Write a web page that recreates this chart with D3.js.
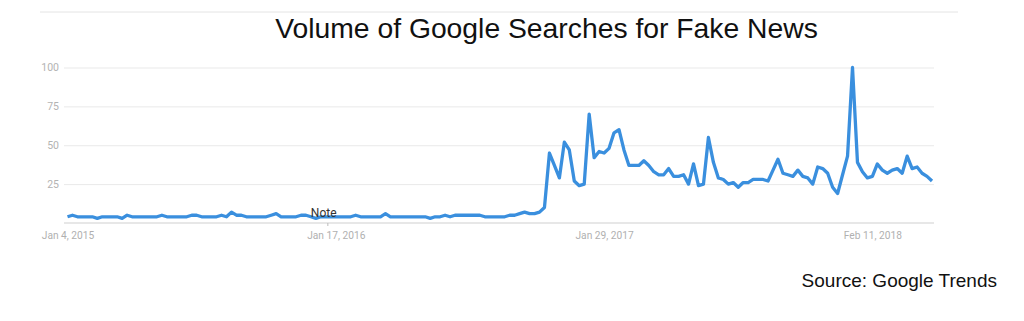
<!DOCTYPE html>
<html>
<head>
<meta charset="utf-8">
<script src="https://cdn.jsdelivr.net/npm/d3@7"></script>
<style>
html,body{margin:0;padding:0;background:#fff;}
svg{display:block;}
</style>
</head>
<body>
<svg id="chart" width="1024" height="321"></svg>
<script>
// ---- data ----
const startWeek = "2015-01-04";
const values = [
  4,5,4,4,4,4,3,4,4,4, 4,3,5,4,4,4,4,4,4,5,
  4,4,4,4,4,5,5,4,4,4, 4,5,4,7,5,5,4,4,4,4,
  4,5,6,4,4,4,4,5,5,4, 3,4,4,4,4,4,4,4,5,4,
  4,4,4,4,6,4,4,4,4,4, 4,4,4,3,4,4,5,4,5,5,
  5,5,5,5,4,4,4,4,4,5, 5,6,7,6,6,7,10,45,37,29,
  52,47,27,24,25,70,42,46,45,48, 58,60,47,37,37,37,40,37,33,31,
  31,35,30,30,31,25,38,24,25,55, 39,29,28,25,26,23,26,26,28,28,
  28,27,34,41,32,31,30,34,30,29, 25,36,35,32,23,19,31,43,100,39,
  33,29,30,38,34,32,34,35,32,43, 35,36,32,30,27
];
const yTicks = [25, 50, 75, 100];
const xTickDates = ["2015-01-04", "2016-01-17", "2017-01-29", "2018-02-11"];
const xTickLabels = ["Jan 4, 2015", "Jan 17, 2016", "Jan 29, 2017", "Feb 11, 2018"];
const noteDate = "2016-01-03";
const noteLabel = "Note";
const titleText = "Volume of Google Searches for Fake News";
const sourceText = "Source: Google Trends";

// ---- drawing ----
const parse = d3.utcParse("%Y-%m-%d");
const t0 = parse(startWeek);
const dates = values.map((v, i) => d3.utcWeek.offset(t0, i));
const data = values.map((v, i) => ({date: dates[i], value: v}));

const svg = d3.select("#chart");
const x = d3.scaleUtc().domain([dates[0], dates[dates.length - 1]]).range([67.5, 932]);
const y = d3.scaleLinear().domain([0, 100]).range([223, 67.5]);
const gridLeft = 64, gridRight = 934;

// top separator line
svg.append("line").attr("x1", 40).attr("x2", 958).attr("y1", 12).attr("y2", 12)
  .attr("stroke", "#e4e4e4").attr("stroke-width", 1);

// title
svg.append("text").attr("x", 546.5).attr("y", 38).attr("text-anchor", "middle")
  .attr("font-family", "Liberation Sans, Arial, sans-serif").attr("font-size", 28.3)
  .attr("fill", "#111").text(titleText);

// grid
const yAxis = d3.axisLeft(y).tickValues(yTicks).tickSize(-(gridRight - gridLeft)).tickPadding(6);
const gy = svg.append("g").attr("transform", `translate(${gridLeft},0)`).call(yAxis);
gy.select(".domain").remove();
gy.selectAll(".tick line").attr("stroke", "#e9e9e9").attr("stroke-width", 1);
gy.selectAll(".tick text").attr("fill", "#b3b3b3").attr("font-family", "Roboto, sans-serif")
  .attr("font-size", 10.5).attr("x", -5);

// baseline
svg.append("line").attr("x1", gridLeft).attr("x2", gridRight).attr("y1", y(0)).attr("y2", y(0))
  .attr("stroke", "#cfcfcf").attr("stroke-width", 1.2);

// x axis labels
const xAxis = d3.axisBottom(x).tickValues(xTickDates.map(parse))
  .tickFormat((d, i) => xTickLabels[i]).tickSize(0).tickPadding(9);
const gx = svg.append("g").attr("transform", `translate(0,${y(0)})`).call(xAxis);
gx.select(".domain").remove();
gx.selectAll(".tick text").attr("fill", "#b0b0b0").attr("font-family", "Roboto, sans-serif")
  .attr("font-size", 10.2);

// line
const line = d3.line().x(d => x(d.date)).y(d => y(d.value)).curve(d3.curveLinear);
svg.append("path").datum(data).attr("d", line).attr("fill", "none")
  .attr("stroke", "#3a8fde").attr("stroke-width", 3.3).attr("stroke-linejoin", "round");

// note
const nx = x(parse(noteDate));
svg.append("line").attr("x1", nx + 2).attr("x2", nx + 2).attr("y1", y(0)).attr("y2", y(0) + 3)
  .attr("stroke", "#bbb").attr("stroke-width", 1);
svg.append("text").attr("x", nx - 15).attr("y", 217).attr("font-family", "Roboto, sans-serif")
  .attr("font-size", 12).attr("fill", "#333").text(noteLabel);

// source
svg.append("text").attr("x", 997).attr("y", 287).attr("text-anchor", "end")
  .attr("font-family", "Liberation Sans, Arial, sans-serif").attr("font-size", 19)
  .attr("fill", "#111").text(sourceText);
</script>
</body>
</html>
